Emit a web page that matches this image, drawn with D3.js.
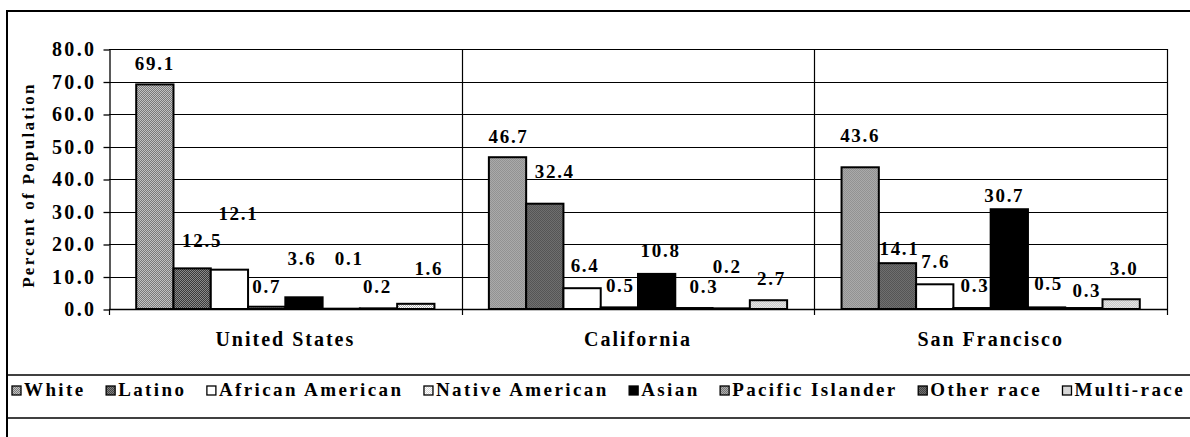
<!DOCTYPE html>
<meta charset="utf-8">
<style>
body { margin:0; background:#fff; }
svg text {
  font-family: "Liberation Serif", "Tinos", "Times New Roman", "DejaVu Serif", serif !important;
  font-weight: bold;
  fill: #000;
}
</style>
<body>
<div id="chart"></div>
<script src="https://d3js.org/d3.v7.min.js"></script>
<script>
// data (percent of population)
var regions = ["United States", "California", "San Francisco"];
var races = ["White", "Latino", "African American", "Native American",
             "Asian", "Pacific Islander", "Other race", "Multi-race"];
var usVals = [69.1, 12.5, 12.1, 0.7, 3.6, 0.1, 0.2, 1.6];
var caVals = [46.7, 32.4, 6.4, 0.5, 10.8, 0.3, 0.2, 2.7];
var sfVals = [43.6, 14.1, 7.6, 0.3, 30.7, 0.5, 0.3, 3.0];
var yTicks = [0, 10, 20, 30, 40, 50, 60, 70, 80];

// the labels in the original sit a bit off their bars; [dx, dy] from bar top
var labelNudge = [
  [[0, -14], [10, -21], [9, -50], [0, -14], [-2, -32], [8, -44], [-1, -15], [13, -29]],
  [[1, -14], [10, -26], [3, -16], [1, -15], [4, -17], [10, -15], [-4, -35], [3, -15]],
  [[0, -25], [2, -8], [1, -16], [3, -16], [-5, -7], [2, -17], [3, -11], [3, -24]]
];

var width = 1190, height = 437;
var serif = "'Liberation Serif', Tinos, 'Times New Roman', 'DejaVu Serif', serif";

var svg = d3.select("#chart").append("svg")
    .attr("width", width)
    .attr("height", height)
    .attr("font-family", serif);

// grey "dither" fills like the scanned print
var fills = [
  ["#7a7a7a", "#c2c2c2"],
  ["#3a3a3a", "#8a8a8a"],
  ["#ffffff", "#ffffff"],
  ["#ffffff", "#d8d8d8"],
  ["#000000", "#000000"],
  ["#6e6e6e", "#b8b8b8"],
  ["#303030", "#828282"],
  ["#ffffff", "#b0b0b0"]
];
var defs = svg.append("defs");
fills.forEach(function(f, i) {
  var p = defs.append("pattern")
      .attr("id", "pat" + i)
      .attr("patternUnits", "userSpaceOnUse")
      .attr("width", 2).attr("height", 2);
  p.append("rect").attr("width", 2).attr("height", 2).attr("fill", f[1]);
  p.append("rect").attr("width", 1).attr("height", 1).attr("fill", f[0]);
  p.append("rect").attr("x", 1).attr("y", 1).attr("width", 1).attr("height", 1).attr("fill", f[0]);
});

var x0 = d3.scaleBand()
    .domain(regions)
    .range([109, 1167])
    .padding(0);

var x1 = d3.scaleBand()
    .domain(races)
    .range([0, x0.bandwidth()])
    .paddingInner(0)
    .paddingOuter(0.73);

var y = d3.scaleLinear()
    .domain([0, 80])
    .range([309, 49]);

var color = d3.scaleOrdinal()
    .domain(races)
    .range(races.map(function(d, i) { return "url(#pat" + i + ")"; }));

// outer frame
svg.append("path")
    .attr("d", "M7,437V11H1190")
    .attr("fill", "none")
    .attr("stroke", "#000")
    .attr("stroke-width", 2);

// gridlines
svg.append("g")
  .selectAll("line")
  .data(yTicks)
  .enter().append("line")
    .attr("x1", 109)
    .attr("x2", 1167)
    .attr("y1", function(d) { return Math.round(y(d)) + 0.5; })
    .attr("y2", function(d) { return Math.round(y(d)) + 0.5; })
    .attr("stroke", "#000")
    .attr("stroke-width", 1.2);

// category separators + right border
svg.append("g")
  .selectAll("line")
  .data(regions.slice(1).map(function(r) { return x0(r); }).concat([x0.range()[1]]))
  .enter().append("line")
    .attr("x1", function(d) { return Math.round(d) + 0.5; })
    .attr("x2", function(d) { return Math.round(d) + 0.5; })
    .attr("y1", y(80))
    .attr("y2", y(0) + 6)
    .attr("stroke", "#000")
    .attr("stroke-width", 1.2);

// y axis
var yAxis = svg.append("g")
    .attr("transform", "translate(109.5,0.5)")
    .call(d3.axisLeft(y)
      .tickValues(yTicks)
      .tickSize(6)
      .tickSizeOuter(0)
      .tickPadding(7)
      .tickFormat(d3.format(".1f")));
yAxis.attr("font-family", serif).attr("font-size", null);
yAxis.selectAll("path, line").attr("stroke", "#000").attr("stroke-width", 1.3);
yAxis.selectAll("text")
    .style("font-size", "20px")
    .style("letter-spacing", "2.4px");

svg.append("text")
    .attr("transform", "translate(34,185) rotate(-90)")
    .attr("text-anchor", "middle")
    .style("font-size", "17px")
    .style("letter-spacing", "2.3px")
    .text("Percent of Population");

// bars
var series = [usVals, caVals, sfVals];
var groups = svg.append("g").selectAll("g")
  .data(regions)
  .enter().append("g")
    .attr("transform", function(d) { return "translate(" + x0(d) + ",0)"; });

function rows(d, i) {
  return races.map(function(r, j) { return {race: r, value: series[i][j], nudge: labelNudge[i][j]}; });
}

groups.selectAll("rect")
  .data(rows)
  .enter().append("rect")
    .attr("x", function(d) { return x1(d.race); })
    .attr("y", function(d) { return y(d.value); })
    .attr("width", x1.bandwidth())
    .attr("height", function(d) { return y(0) - y(d.value); })
    .attr("fill", function(d) { return color(d.race); })
    .attr("stroke", "#000")
    .attr("stroke-width", 2);

groups.selectAll("text")
  .data(rows)
  .enter().append("text")
    .attr("x", function(d) { return x1(d.race) + x1.bandwidth() / 2 + d.nudge[0]; })
    .attr("y", function(d) { return y(d.value) + d.nudge[1]; })
    .attr("text-anchor", "middle")
    .style("font-size", "19px")
    .style("letter-spacing", "1.7px")
    .text(function(d) { return d3.format(".1f")(d.value); });

// x axis line with ticks at boundaries
svg.append("line")
    .attr("x1", 109).attr("x2", 1167)
    .attr("y1", Math.round(y(0)) + 0.5).attr("y2", Math.round(y(0)) + 0.5)
    .attr("stroke", "#000")
    .attr("stroke-width", 1.6);
svg.append("line")
    .attr("x1", 109.5).attr("x2", 109.5)
    .attr("y1", y(0)).attr("y2", y(0) + 6)
    .attr("stroke", "#000")
    .attr("stroke-width", 1.2);

svg.append("g").selectAll("text")
  .data(regions)
  .enter().append("text")
    .attr("x", function(d) { return x0(d) + x0.bandwidth() / 2; })
    .attr("y", 346)
    .attr("text-anchor", "middle")
    .style("font-size", "20px")
    .style("letter-spacing", "2px")
    .text(function(d) { return d; });

// legend band
svg.append("g").selectAll("line")
  .data([375, 418])
  .enter().append("line")
    .attr("x1", 7).attr("x2", 1190)
    .attr("y1", function(d) { return d; }).attr("y2", function(d) { return d; })
    .attr("stroke", "#000")
    .attr("stroke-width", 1.5);

var legend = svg.append("g");
var items = legend.selectAll("g")
  .data(races)
  .enter().append("g");
items.append("rect")
    .attr("width", 9).attr("height", 9)
    .attr("y", 386)
    .attr("fill", function(d) { return color(d); })
    .attr("stroke", "#000")
    .attr("stroke-width", 1.3);
items.append("text")
    .attr("x", 12)
    .attr("y", 396)
    .style("font-size", "19px")
    .style("letter-spacing", "2.4px")
    .text(function(d) { return d; });

// spread the legend from the left frame to the right edge
var widths = [];
items.each(function() { widths.push(12 + this.querySelector("text").getComputedTextLength()); });
var total = d3.sum(widths);
var gap = (1185 - 12 - total) / (races.length - 1);
var pos = 12;
items.attr("transform", function(d, i) {
  var t = "translate(" + pos + ",0)";
  pos += widths[i] + gap;
  return t;
});
</script>
</body>
</html>
